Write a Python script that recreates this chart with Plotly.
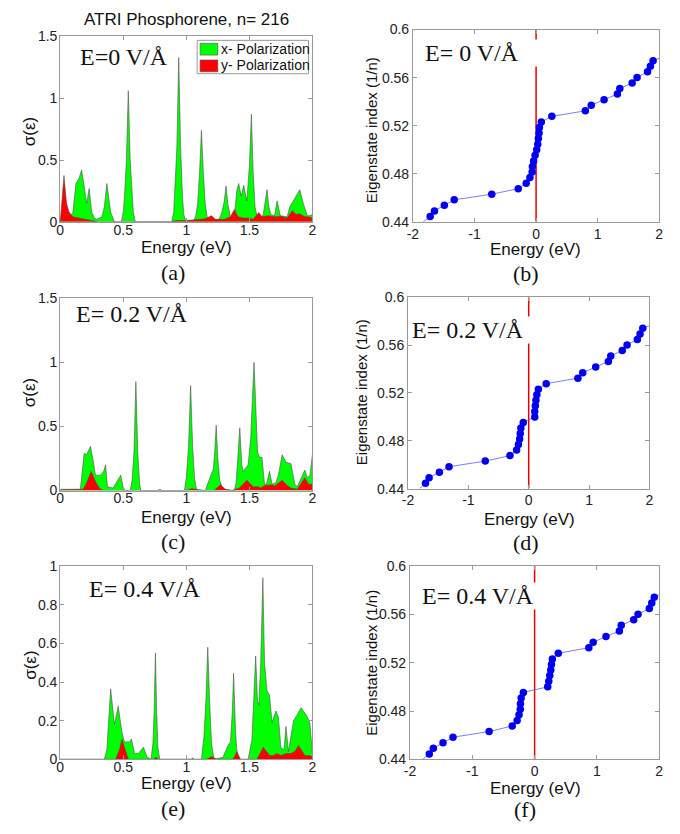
import plotly.graph_objects as go

W, H = 680, 834

# ---------------- optical conductivity spectra ----------------
# E = 0 V/A
a_x_en = [0.00, 0.015, 0.035, 0.06, 0.08, 0.10, 0.125, 0.15, 0.17, 0.19, 0.21, 0.23, 0.25, 0.27,
          0.29, 0.33, 0.35, 0.37, 0.39, 0.40, 0.43, 0.485, 0.50, 0.51, 0.525, 0.54, 0.555, 0.57,
          0.58, 0.595, 0.885, 0.90, 0.91, 0.925, 0.94, 0.955, 0.97, 0.98, 0.995, 1.06, 1.075,
          1.09, 1.105, 1.12, 1.135, 1.15, 1.165, 1.18, 1.26, 1.28, 1.30, 1.315, 1.33, 1.35, 1.38,
          1.40, 1.415, 1.435, 1.455, 1.48, 1.50, 1.516, 1.53, 1.545, 1.56, 1.58, 1.61, 1.625,
          1.64, 1.655, 1.67, 1.70, 1.72, 1.745, 1.80, 1.82, 1.86, 1.90, 1.93, 1.96, 1.98, 2.00]
a_x_sig = [0.00, 0.08, 0.21, 0.08, 0.05, 0.07, 0.31, 0.355, 0.42, 0.29, 0.15, 0.27, 0.08, 0.03,
           0.02, 0.04, 0.12, 0.31, 0.16, 0.08, 0.00, 0.00, 0.08, 0.20, 0.50, 1.06, 0.50, 0.20,
           0.08, 0.00, 0.00, 0.08, 0.25, 0.60, 1.33, 0.60, 0.20, 0.06, 0.01, 0.01, 0.05,
           0.15, 0.40, 0.74, 0.40, 0.15, 0.04, 0.01, 0.02, 0.07, 0.16, 0.29, 0.14, 0.04, 0.03,
           0.25, 0.31, 0.21, 0.295, 0.17, 0.45, 0.87, 0.40, 0.12, 0.05, 0.02, 0.06, 0.15,
           0.26, 0.12, 0.06, 0.05, 0.17, 0.05, 0.04, 0.12, 0.19, 0.26, 0.14, 0.05, 0.05, 0.06]
a_y_en = [0.00, 0.01, 0.03, 0.05, 0.07, 0.10, 0.15, 0.22, 0.30, 0.88, 0.92, 1.00, 1.05, 1.10,
          1.15, 1.20, 1.23, 1.30, 1.35, 1.38, 1.41, 1.45, 1.50, 1.53, 1.575, 1.60, 1.65, 1.70,
          1.75, 1.80, 1.84, 1.87, 1.90, 1.94, 1.97, 2.00]
a_y_sig = [0.00, 0.15, 0.375, 0.15, 0.08, 0.04, 0.03, 0.02, 0.00, 0.00, 0.01, 0.01, 0.015, 0.02,
           0.025, 0.05, 0.02, 0.02, 0.04, 0.10, 0.04, 0.03, 0.03, 0.02, 0.075, 0.04, 0.05, 0.04,
           0.045, 0.03, 0.09, 0.06, 0.065, 0.04, 0.04, 0.03]

# E = 0.2 V/A
c_x_en = [0.00, 0.10, 0.13, 0.16, 0.175, 0.19, 0.21, 0.24, 0.26, 0.28, 0.32, 0.345, 0.36, 0.375,
          0.42, 0.46, 0.48, 0.50, 0.52, 0.555, 0.57, 0.585, 0.60, 0.615, 0.63, 0.64, 0.77, 0.79,
          0.81, 0.985, 1.00, 1.018, 1.034, 1.05, 1.065, 1.08, 1.15, 1.18, 1.20, 1.215, 1.225,
          1.237, 1.25, 1.265, 1.29, 1.38, 1.395, 1.41, 1.424, 1.44, 1.45, 1.49, 1.51, 1.537,
          1.555, 1.565, 1.58, 1.60, 1.62, 1.635, 1.66, 1.68, 1.71, 1.73, 1.76, 1.79, 1.83, 1.86,
          1.88, 1.91, 1.94, 1.96, 1.98, 2.00]
c_x_sig = [0.01, 0.01, 0.015, 0.01, 0.15, 0.29, 0.28, 0.345, 0.24, 0.12, 0.12, 0.15, 0.20, 0.03,
           0.02, 0.08, 0.12, 0.02, 0.00, 0.00, 0.08, 0.30, 0.85, 0.30, 0.05, 0.00, 0.00, 0.01,
           0.00, 0.00, 0.10, 0.35, 0.82, 0.35, 0.10, 0.01, 0.00, 0.08, 0.14, 0.17, 0.30,
           0.51, 0.25, 0.08, 0.01, 0.00, 0.06, 0.25, 0.49, 0.20, 0.15, 0.20, 0.40, 1.00,
           0.50, 0.30, 0.26, 0.26, 0.05, 0.05, 0.15, 0.05, 0.06, 0.12, 0.28, 0.22, 0.21, 0.05,
           0.03, 0.10, 0.16, 0.10, 0.12, 0.28]
c_y_en = [0.00, 0.15, 0.18, 0.21, 0.245, 0.28, 0.31, 0.34, 1.00, 1.04, 1.08, 1.10, 1.22, 1.27,
          1.31, 1.36, 1.42, 1.48, 1.53, 1.57, 1.59, 1.62, 1.65, 1.68, 1.70, 1.76, 1.80, 1.83,
          1.88, 1.94, 1.97, 2.00]
c_y_sig = [0.005, 0.005, 0.01, 0.06, 0.15, 0.07, 0.02, 0.00, 0.00, 0.015, 0.01, 0.00, 0.00, 0.045,
           0.01, 0.00, 0.02, 0.08, 0.03, 0.03, 0.02, 0.04, 0.04, 0.045, 0.035, 0.08, 0.04, 0.02,
           0.01, 0.10, 0.05, 0.05]

# E = 0.4 V/A
e_x_en = [0.00, 0.35, 0.37, 0.40, 0.43, 0.46, 0.49, 0.51, 0.55, 0.565, 0.59, 0.62, 0.66, 0.69,
          0.72, 0.735, 0.745, 0.755, 0.765, 0.775, 0.79, 1.04, 1.05, 1.06, 1.12, 1.14, 1.155,
          1.17, 1.185, 1.20, 1.22, 1.29, 1.33, 1.35, 1.365, 1.375, 1.39, 1.40, 1.42, 1.49, 1.52,
          1.535, 1.55, 1.565, 1.575, 1.59, 1.607, 1.62, 1.64, 1.66, 1.68, 1.71, 1.73, 1.75,
          1.775, 1.79, 1.81, 1.83, 1.85, 1.87, 1.91, 1.95, 1.98, 2.00]
e_x_sig = [0.00, 0.00, 0.05, 0.365, 0.18, 0.275, 0.14, 0.09, 0.09, 0.105, 0.03, 0.03, 0.063, 0.01,
           0.00, 0.08, 0.25, 0.55, 0.25, 0.06, 0.00, 0.00, 0.008, 0.00, 0.00, 0.12, 0.30,
           0.58, 0.30, 0.08, 0.00, 0.01, 0.07, 0.09, 0.25, 0.445, 0.15, 0.05, 0.00, 0.00, 0.10,
           0.30, 0.535, 0.30, 0.28, 0.50, 0.94, 0.50, 0.355, 0.33, 0.19, 0.25, 0.22, 0.06,
           0.05, 0.17, 0.04, 0.12, 0.20, 0.22, 0.267, 0.23, 0.19, 0.03]
e_y_en = [0.00, 0.44, 0.47, 0.49, 0.52, 0.54, 0.74, 0.76, 0.78, 1.16, 1.20, 1.24, 1.37, 1.40,
          1.43, 1.56, 1.61, 1.66, 1.69, 1.72, 1.75, 1.79, 1.83, 1.86, 1.89, 1.94, 1.98, 2.00]
e_y_sig = [0.00, 0.00, 0.05, 0.104, 0.04, 0.00, 0.00, 0.01, 0.00, 0.00, 0.015, 0.00, 0.00, 0.038,
           0.00, 0.00, 0.063, 0.02, 0.02, 0.03, 0.02, 0.03, 0.03, 0.04, 0.071, 0.02, 0.02, 0.01]

# ---------------- eigenstate index vs eigen-energy ----------------
# index k/n for k = 95 ... 125 (first and last lie just outside the frame)
eig_index = [0.4398, 0.4444, 0.4491, 0.4537, 0.4583, 0.4630, 0.4676, 0.4722, 0.4769, 0.4815,
             0.4861, 0.4907, 0.4954, 0.5000, 0.5046, 0.5093, 0.5139, 0.5185, 0.5231, 0.5278,
             0.5324, 0.5370, 0.5417, 0.5463, 0.5509, 0.5556, 0.5602, 0.5648, 0.5694, 0.5741,
             0.5787]
b_energy = [-1.835, -1.72, -1.65, -1.49, -1.33, -0.72, -0.29, -0.16, -0.10, -0.064, -0.06, -0.04,
            -0.016, 0.01, 0.027, 0.037, 0.048, 0.053, 0.085, 0.256, 0.80, 0.896, 1.104, 1.32,
            1.36, 1.56, 1.64, 1.81, 1.856, 1.90, 2.13]
d_energy = [-1.815, -1.71, -1.65, -1.48, -1.32, -0.72, -0.31, -0.20, -0.17, -0.15, -0.14, -0.13,
            -0.09, 0.10, 0.10, 0.11, 0.12, 0.135, 0.16, 0.29, 0.815, 0.895, 1.11, 1.32, 1.36,
            1.55, 1.63, 1.80, 1.845, 1.89, 2.13]
f_energy = [-1.80, -1.69, -1.625, -1.47, -1.31, -0.73, -0.36, -0.28, -0.25, -0.23, -0.227, -0.216,
            -0.18, 0.21, 0.227, 0.243, 0.259, 0.27, 0.285, 0.38, 0.87, 0.94, 1.145, 1.36, 1.39,
            1.59, 1.66, 1.84, 1.88, 1.92, 2.08]

field_labels = ["E=0 V/Å", "E= 0.2 V/Å", "E= 0.4 V/Å"]
eig_labels = ["E= 0 V/Å", "E= 0.2 V/Å", "E= 0.4 V/Å"]
panel_tags = ["(a)", "(b)", "(c)", "(d)", "(e)", "(f)"]
legend_names = ["x- Polarization", "y- Polarization"]

spec_ticks = [0, 0.5, 1, 1.5, 2]
spec_ticktext = ["0", "0.5", "1", "1.5", "2"]
sig_ticks_15 = [0, 0.5, 1, 1.5]
sig_ticktext_15 = ["0", "0.5", "1", "1.5"]
sig_ticks_1 = [0, 0.2, 0.4, 0.6, 0.8, 1]
sig_ticktext_1 = ["0", "0.2", "0.4", "0.6", "0.8", "1"]
eig_xticks = [-2, -1, 0, 1, 2]
eig_xticktext = ["-2", "-1", "0", "1", "2"]
eig_yticks = [0.44, 0.48, 0.52, 0.56, 0.6]
eig_yticktext = ["0.44", "0.48", "0.52", "0.56", "0.6"]

GREEN = "#00ff00"
RED = "#ff0000"
EDGE = "#505050"
FRAME = "#9a9a9a"
SANS = "Liberation Sans, Arial, sans-serif"
SERIF = "Liberation Serif, Times New Roman, serif"


def px_x(p):
    return p / W


def px_y(p):
    return 1 - p / H


# plot-area boxes in pixels: (left, right, top, bottom)
boxes = {
    1: (55, 311, 29, 218),
    2: (413, 663, 22, 218),
    3: (55, 311, 296, 492),
    4: (408, 653, 295, 490),
    5: (55, 311, 569, 766),
    6: (410, 663, 569, 766),
}

fig = go.Figure()

spectra = [
    (1, a_x_en, a_x_sig, a_y_en, a_y_sig),
    (3, c_x_en, c_x_sig, c_y_en, c_y_sig),
    (5, e_x_en, e_x_sig, e_y_en, e_y_sig),
]
for n, xe, xs, ye, ys in spectra:
    ax = "" if n == 1 else str(n)
    fig.add_trace(go.Scatter(
        x=xe, y=xs, mode="lines", fill="tozeroy", fillcolor=GREEN,
        line=dict(color=EDGE, width=0.6), name=legend_names[0],
        showlegend=False, xaxis="x" + ax, yaxis="y" + ax))
    fig.add_trace(go.Scatter(
        x=ye, y=ys, mode="lines", fill="tozeroy", fillcolor=RED,
        line=dict(color=EDGE, width=0.6), name=legend_names[1],
        showlegend=False, xaxis="x" + ax, yaxis="y" + ax))

eigs = [(2, b_energy), (4, d_energy), (6, f_energy)]
for n, en in eigs:
    ax = str(n)
    fig.add_trace(go.Scatter(
        x=[0, 0], y=[0.44, 0.6], mode="lines", line=dict(color="#e80000", width=1.5),
        showlegend=False, xaxis="x" + ax, yaxis="y" + ax))
    fig.add_trace(go.Scatter(
        x=en, y=eig_index, mode="lines", line=dict(color="#5a5aff", width=0.8),
        showlegend=False, xaxis="x" + ax, yaxis="y" + ax))
    fig.add_trace(go.Scatter(
        x=en[1:-1], y=eig_index[1:-1], mode="markers",
        marker=dict(color="#0000f0", size=7.5), showlegend=False,
        xaxis="x" + ax, yaxis="y" + ax))

axis_common = dict(
    showgrid=False, zeroline=False, showline=True, mirror="ticks", linecolor=FRAME,
    linewidth=1, ticks="inside", ticklen=4, tickcolor=FRAME,
    tickfont=dict(family=SANS, size=14, color="#222"),
)

layout_axes = {}
for n, (l, r, t, b) in boxes.items():
    key = "" if n == 1 else str(n)
    xd = [px_x(l), px_x(r)]
    yd = [px_y(b), px_y(t)]
    if n in (1, 3, 5):
        xa = dict(axis_common, domain=xd, range=[0, 2], tickvals=spec_ticks,
                  ticktext=spec_ticktext, anchor="y" + key, ticklabelstandoff=-5)
        if n == 5:
            ya = dict(axis_common, domain=yd, range=[0, 1], tickvals=sig_ticks_1,
                      ticktext=sig_ticktext_1, anchor="x" + key, ticklabelstandoff=-1)
        else:
            ya = dict(axis_common, domain=yd, range=[0, 1.5], tickvals=sig_ticks_15,
                      ticktext=sig_ticktext_15, anchor="x" + key, ticklabelstandoff=-1)
    else:
        xa = dict(axis_common, domain=xd, range=[-2, 2], tickvals=eig_xticks,
                  ticktext=eig_xticktext, anchor="y" + key, ticklabelstandoff=-1)
        ya = dict(axis_common, domain=yd, range=[0.44, 0.6], tickvals=eig_yticks,
                  ticktext=eig_yticktext, anchor="x" + key, ticklabelstandoff=0)
    layout_axes["xaxis" + key] = xa
    layout_axes["yaxis" + key] = ya

annotations = []
shapes = []


def ann(text, x, y, size, family=SANS, angle=0, **kw):
    d = dict(text=text, x=px_x(x), y=px_y(y), xref="paper", yref="paper",
             showarrow=False, textangle=angle, xanchor="center", yanchor="middle",
             font=dict(family=family, size=size, color="#111"))
    d.update(kw)
    annotations.append(d)


ann("ATRI Phosphorene, n= 216", 183, 12, 17)

# axis titles
for y in (244, 519, 791):
    ann("Energy (eV)", 183, y, 17)
for x, y in ((537, 246), (531, 522), (537, 796)):
    ann("Energy (eV)", x, y, 17)
for y in (126, 392, 670):
    ann("σ(ε)", 24, y, 17, angle=-90)
for x, y in ((371, 125), (361, 392), (371, 668)):
    ann("Eigenstate index (1/n)", x, y, 15, angle=-90)

# panel tags
for (x, y), tag in zip(((169, 270), (528, 271), (169, 544), (528, 545), (169, 816), (527, 817)),
                       panel_tags):
    ann(tag, x, y, 22, family=SERIF)

# field strength inside spectra panels
for (x, y), txt in zip(((120, 50), (128, 312), (141, 592)), field_labels):
    ann(txt, x, y, 24, family=SERIF)

# field strength inside eigenstate panels, on a white box that hides the Fermi line
for (x, yc), txt in zip(((424, 46), (411, 328), (421, 600)), eig_labels):
    annotations.append(dict(
        text=txt, x=px_x(x), y=px_y(yc), xref="paper", yref="paper", showarrow=False,
        xanchor="left", yanchor="middle", align="left",
        width=122, borderpad=0, bgcolor="white",
        font=dict(family=SERIF, size=24, color="#111")))

# legend box for panel (a)
shapes.append(dict(type="rect", xref="paper", yref="paper",
                   x0=px_x(194), x1=px_x(307), y0=px_y(67), y1=px_y(33),
                   line=dict(color=FRAME, width=1), fillcolor="white", layer="above"))
for (y0, y1, ty), col, name in zip(((36, 48, 42), (53, 65, 58)), (GREEN, RED), legend_names):
    shapes.append(dict(type="rect", xref="paper", yref="paper",
                       x0=px_x(197), x1=px_x(215), y0=px_y(y1), y1=px_y(y0),
                       line=dict(color=EDGE, width=0.6), fillcolor=col, layer="above"))
    ann(name, 216, ty, 14, xanchor="left")

fig.update_layout(
    width=W, height=H, margin=dict(l=0, r=0, t=0, b=0),
    paper_bgcolor="white", plot_bgcolor="white",
    annotations=annotations, shapes=shapes, showlegend=False,
    **layout_axes,
)

fig.write_html("out.html")
